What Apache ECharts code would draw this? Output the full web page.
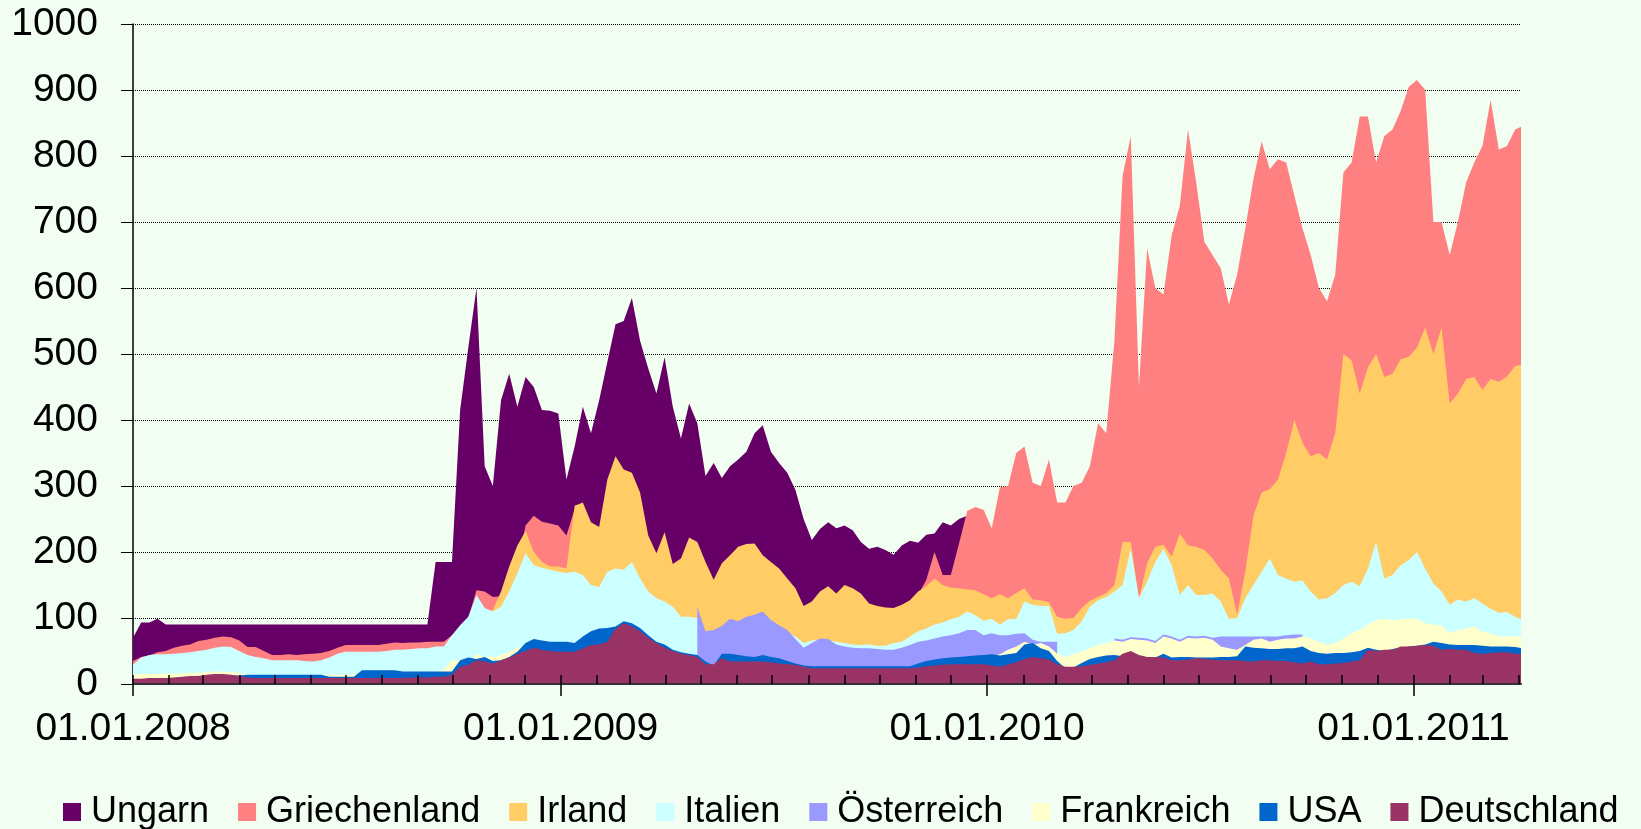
<!DOCTYPE html>
<html>
<head>
<meta charset="utf-8">
<script src="https://cdn.jsdelivr.net/npm/echarts@6/dist/echarts.min.js"></script>
<style>
  html, body { margin: 0; padding: 0; background: #f2fef1; }
  #chart { width: 1641px; height: 829px; }
</style>
</head>
<body>
<div id="chart"></div>
<script>
// weekly samples, week 0 = 01.01.2008 (x = days since then)
const _ = null

const ungarn = [
  70, 93, 93, 99, 90, 90, 90, 90, 90, 90,
  90, 90, 90, 90, 90, 90, 90, 90, 90, 90,
  90, 90, 90, 90, 90, 90, 90, 90, 90, 90,
  90, 90, 90, 90, 90, 90, 90, 185, 185, 185,
  415, 510, 600, 330, 300, 430, 470, 420, 465, 450,
  415, 414, 410, 310, 360, 420, 380, 430, 488, 545,
  550, 585, 520, 478, 440, 495, 420, 372, 425, 395,
  315, 335, 312, 330, 340, 352, 380, 392, 352, 335,
  320, 294, 250, 218, 235, 245, 236, 240, 233, 215,
  205, 208, 203, 196, 210, 217, 214, 226, 228, 245,
  240, 250, 255, 245, 235, 232, 225, 230, 240, 250,
  245, 240, 250, 255, 260, 265, 270, 280, 300, 330,
  360, 380, 400, 380, 360, 350, 340, 370, 390, 360,
  340, 330, 320, 310, 320, 330, 340, 360, 380, 400,
  420, 410, 400, 390, 380, 400, 420, 440, 430, 420,
  410, 400, 390, 380, 390, 400, 390, 380, 370, 360,
  350, 340, 330, 320, 330, 340, 350, 340, 330, 320,
  320
]

const griechenland = [
  35, 41, 43, 48, 50, 55, 58, 60, 65, 67,
  70, 72, 71, 66, 56, 56, 50, 44, 44, 45,
  44, 45, 46, 47, 50, 55, 59, 59, 59, 59,
  59, 61, 63, 62, 63, 63, 64, 64, 64, 74,
  80, 100, 142, 140, 132, 133, 145, 175, 240, 255,
  246, 243, 240, 225, 265, 250, 225, 220, 280, 300,
  290, 280, 260, 210, 185, 200, 170, 175, 200, 195,
  170, 150, 165, 175, 185, 190, 190, 175, 165, 160,
  150, 135, 112, 118, 130, 135, 128, 135, 132, 128,
  118, 114, 113, 112, 116, 122, 135, 158, 200, 165,
  165, 213, 262, 268, 264, 236, 298, 300, 350, 360,
  305, 300, 340, 275, 275, 300, 305, 330, 395, 380,
  520, 770, 830, 450, 660, 600, 590, 680, 725, 840,
  760, 670, 650, 630, 575, 620, 690, 765, 822, 780,
  795, 790, 740, 690, 650, 600, 580, 620, 775, 790,
  860, 860, 790, 830, 840, 868, 905, 915, 900, 700,
  700, 650, 700, 760, 790, 815, 885, 810, 815, 840,
  846
]

const irland = [
  24, 33, 38, 40, 40, 41, 42, 43, 45, 47,
  50, 52, 51, 46, 40, 37, 35, 32, 32, 32,
  32, 31, 30, 32, 36, 42, 45, 45, 45, 45,
  45, 46, 48, 48, 49, 50, 50, 52, 52, 70,
  85, 95, 105, 110, 112, 140, 178, 210, 232, 200,
  185, 178, 178, 175, 270, 275, 245, 238, 310, 345,
  325, 320, 290, 225, 198, 230, 182, 190, 222, 215,
  185, 158, 183, 195, 208, 212, 213, 195, 185, 175,
  160, 145, 118, 125, 140, 148, 137, 150, 145, 137,
  122, 118, 116, 115, 120, 127, 140, 148, 160, 150,
  146, 145, 143, 142, 136, 130, 136, 130, 138, 145,
  128, 127, 124, 102, 99, 100, 115, 126, 132, 138,
  150, 215, 215, 130, 183, 208, 211, 193, 228, 210,
  208, 203, 190, 173, 160, 105, 170, 255, 290, 295,
  310, 350, 400, 365, 345, 350, 340, 380, 500, 490,
  440, 480, 500, 465, 470, 492, 496, 510, 540, 500,
  540, 425, 440, 462, 465, 446, 462, 458, 466, 482,
  484
]

const italien = [
  29, 40, 44, 45, 45, 46, 47, 48, 50, 52,
  55, 57, 56, 50, 44, 41, 39, 36, 36, 36,
  36, 35, 34, 36, 40, 46, 49, 49, 49, 49,
  49, 50, 52, 52, 53, 54, 54, 57, 57, 74,
  89, 102, 135, 115, 110, 117, 140, 168, 198, 180,
  176, 173, 170, 168, 170, 165, 150, 147, 170, 175,
  173, 185, 160, 140, 130, 125, 117, 102, 102, 100,
  77, 79, 85, 95, 92, 98, 100, 105, 94, 86,
  78, 72, 62, 66, 67, 66, 64, 62, 60, 59,
  60, 58, 58, 62, 64, 72, 80, 84, 90, 93,
  98, 102, 110, 104, 96, 99, 90, 98, 99, 125,
  120, 118, 118, 76, 77, 82, 95, 117, 127, 132,
  140, 150, 205, 130, 155, 185, 205, 180, 135, 150,
  135, 135, 137, 125, 99, 100, 130, 150, 170, 190,
  165, 160, 155, 157, 140, 128, 130, 138, 150, 155,
  148, 175, 215, 160, 165, 180, 188, 200, 175, 152,
  140, 120, 128, 125, 130, 122, 114, 108, 109, 102,
  97
]

const oesterreich = [
  _, _, _, _, _, _, _, _, _, _,
  _, _, _, _, _, _, _, _, _, _,
  _, _, _, _, _, _, _, _, _, _,
  _, _, _, _, _, _, _, _, _, _,
  _, _, _, _, _, _, _, _, _, _,
  _, _, _, _, _, _, _, _, _, _,
  _, _, _, _, _, _, _, _, _, 117,
  80, 82, 88, 99, 95, 102, 105, 110, 97, 89,
  82, 68, 55, 62, 69, 68, 60, 57, 55, 54,
  54, 53, 52, 52, 55, 59, 64, 66, 69, 72,
  74, 77, 82, 82, 74, 77, 74, 74, 76, 77,
  67, 64, 64, 64, _, _, _, _, _, _,
  69, 67, 71, 70, 69, 65, 75, 72, 67, 73,
  72, 73, 70, 72, 72, 72, 72, 72, 72, 72,
  72, 74, 75, 75, _, _, _, _, _, _,
  _, _, _, _, _, _, _, _, _, _,
  _, _, _, _, _, _, _, _, _, _,
  _
]

const frankreich = [
  14, 15, 15, 15, 16, 16, 16, 17, 17, 18,
  19, 19, 18, 17, 14, 13, 13, 13, 12, 12,
  12, 12, 13, 13, 14, 14, 14, 14, 16, 16,
  17, 17, 17, 17, 17, 17, 17, 18, 22, 36,
  36, 30, 46, 41, 41, 44, 49, 55, 58, 60,
  60, 58, 58, 58, 56, 60, 65, 70, 72, 75,
  78, 80, 75, 65, 58, 52, 46, 42, 40, 38,
  32, 27, 40, 40, 38, 36, 36, 38, 36, 34,
  31, 28, 25, 24, 24, 24, 24, 24, 24, 24,
  24, 24, 24, 24, 24, 26, 29, 32, 34, 36,
  37, 38, 39, 40, 41, 42, 45, 52, 57, 64,
  59, 62, 57, 46, 41, 46, 49, 54, 59, 62,
  66, 64, 68, 67, 66, 62, 72, 69, 64, 70,
  69, 70, 67, 57, 54, 52, 59, 67, 69, 64,
  67, 69, 69, 72, 69, 64, 59, 62, 69, 77,
  82, 90, 97, 99, 97, 98, 99, 99, 92, 90,
  89, 77, 82, 84, 87, 79, 77, 72, 72, 72,
  72
]

const usa = [
  7, 7, 8, 8, 8, 9, 10, 11, 11, 13,
  14, 14, 13, 13, 14, 14, 14, 14, 14, 14,
  14, 14, 14, 14, 11, 11, 11, 11, 21, 21,
  21, 21, 21, 19, 19, 19, 19, 19, 19, 19,
  36, 40, 38, 41, 35, 36, 41, 49, 62, 68,
  66, 64, 64, 64, 62, 72, 80, 84, 85, 87,
  95, 92, 85, 74, 64, 60, 52, 48, 46, 44,
  34, 28, 46, 46, 44, 42, 41, 44, 41, 39,
  35, 31, 28, 27, 27, 27, 27, 27, 27, 27,
  27, 27, 27, 27, 27, 27, 31, 35, 37, 39,
  40, 41, 42, 43, 44, 45, 43, 45, 47, 60,
  62, 54, 50, 35, 24, 25, 32, 38, 41, 43,
  44, 42, 49, 41, 40, 40, 46, 40, 41, 41,
  40, 40, 40, 41, 41, 42, 57, 55, 54, 53,
  53, 54, 54, 57, 50, 47, 46, 47, 47, 48,
  50, 55, 52, 50, 53, 55, 57, 58, 60, 64,
  62, 60, 59, 59, 59, 58, 57, 57, 57, 56,
  54
]

const deutschland = [
  8, 8, 9, 9, 9, 10, 11, 12, 12, 14,
  15, 15, 14, 12, 10, 9, 9, 9, 9, 9,
  9, 9, 9, 9, 9, 9, 9, 9, 9, 9,
  9, 9, 9, 9, 10, 10, 10, 11, 11, 14,
  26, 29, 36, 34, 31, 36, 40, 46, 50, 55,
  52, 50, 49, 49, 49, 54, 59, 60, 64, 84,
  92, 87, 80, 70, 62, 55, 50, 46, 44, 41,
  30, 30, 39, 34, 34, 34, 34, 34, 33, 31,
  30, 29, 26, 24, 24, 24, 24, 24, 24, 24,
  24, 24, 24, 24, 24, 24, 25, 27, 28, 29,
  30, 30, 30, 30, 30, 28, 26, 30, 33, 38,
  41, 39, 37, 30, 26, 26, 27, 29, 31, 33,
  36, 46, 50, 44, 41, 41, 40, 36, 36, 37,
  39, 38, 37, 36, 36, 36, 35, 34, 36, 36,
  35, 35, 33, 31, 34, 30, 30, 31, 32, 34,
  36, 52, 50, 52, 52, 57, 57, 58, 59, 58,
  52, 53, 52, 52, 47, 46, 47, 48, 48, 46,
  45
]

const yearLabels = ['01.01.2008', '01.01.2009', '01.01.2010', '01.01.2011']

const DAY = 86400000
const start = Date.UTC(2008, 0, 1)
const xMax = 1188
const dayOf = (y, m) => Math.round((Date.UTC(y, m, 1) - start) / DAY)

const yearDays = [dayOf(2008, 0), dayOf(2009, 0), dayOf(2010, 0), dayOf(2011, 0)]
const monthDays = []
for (let y = 2008; y <= 2011; y++) {
  for (let m = 0; m < 12; m++) {
    const d = dayOf(y, m)
    if (d <= xMax) monthDays.push(d)
  }
}

const font = 'Liberation Sans, Arial, sans-serif'

const countries = [
  { name: 'Ungarn', color: '#660066', data: ungarn },
  { name: 'Griechenland', color: '#ff8080', data: griechenland },
  { name: 'Irland', color: '#ffcc66', data: irland },
  { name: 'Italien', color: '#ccffff', data: italien },
  { name: 'Österreich', color: '#9999ff', data: oesterreich },
  { name: 'Frankreich', color: '#ffffcc', data: frankreich },
  { name: 'USA', color: '#0066cc', data: usa },
  { name: 'Deutschland', color: '#993366', data: deutschland }
]

const option = {
  backgroundColor: '#f2fef1',
  animation: false,
  grid: { left: 133, right: 120, top: 24, bottom: 145 },
  legend: {
    left: 58,
    top: 789,
    icon: 'rect',
    itemWidth: 18,
    itemHeight: 18,
    itemGap: 29,
    textStyle: { fontFamily: font, fontSize: 36, color: '#000', padding: [0, 0, 0, 5] },
    data: countries.map(c => c.name)
  },
  xAxis: [
    {
      type: 'value',
      min: 0,
      max: xMax,
      z: 10,
      axisLine: { show: true, lineStyle: { color: '#333', width: 2 } },
      axisTick: { show: true, inside: true, length: 9, customValues: monthDays, lineStyle: { color: '#000', width: 1.5 } },
      axisLabel: { show: false },
      splitLine: { show: false }
    },
    {
      type: 'value',
      min: 0,
      max: xMax,
      position: 'bottom',
      z: 10,
      axisLine: { show: false },
      axisTick: { show: true, length: 12, customValues: yearDays, lineStyle: { color: '#000', width: 1.5 } },
      axisLabel: {
        customValues: yearDays,
        margin: 26,
        fontFamily: font,
        fontSize: 39,
        color: '#000',
        formatter: v => yearLabels[yearDays.indexOf(v)] || ''
      },
      splitLine: { show: false }
    }
  ],
  yAxis: {
    type: 'value',
    min: 0,
    max: 1000,
    interval: 100,
    axisLine: { show: true, lineStyle: { color: '#000', width: 1.5 } },
    axisTick: { show: true, length: 12, lineStyle: { color: '#000' } },
    axisLabel: { margin: 35, fontFamily: font, fontSize: 39, color: '#000', formatter: v => String(v) },
    splitLine: { show: true, lineStyle: { color: '#000', type: 'dotted', width: 1 } }
  },
  series: countries.map(c => ({
    name: c.name,
    type: 'line',
    xAxisIndex: 0,
    symbol: 'none',
    clip: true,
    silent: true,
    itemStyle: { color: c.color },
    lineStyle: { width: 0, color: c.color },
    areaStyle: { color: c.color, opacity: 1 },
    data: c.data.map((v, i) => [i * 7, v == null ? '-' : v])
  }))
}

const chart = echarts.init(document.getElementById('chart'))
chart.setOption(option)
</script>
</body>
</html>
